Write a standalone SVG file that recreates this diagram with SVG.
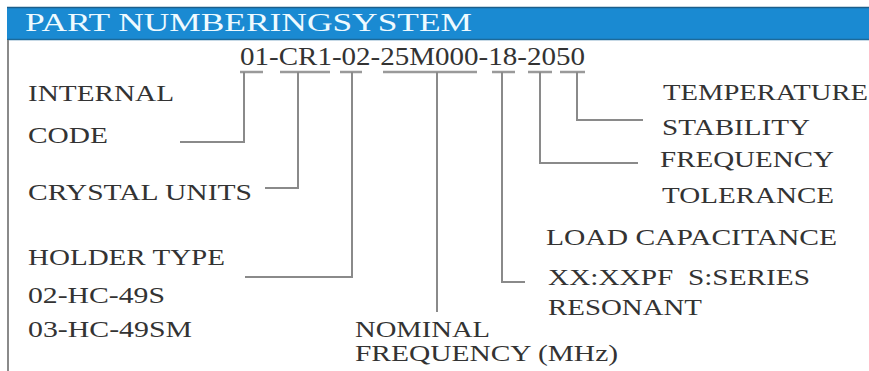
<svg xmlns="http://www.w3.org/2000/svg" width="869" height="371" viewBox="0 0 869 371">
<style>
.t{font-family:"Liberation Serif","DejaVu Serif",serif;font-size:23px;fill:#333;white-space:pre;}
.pn{font-family:"Liberation Serif","DejaVu Serif",serif;font-size:26px;fill:#333;}
.c{fill:none;stroke:#8a8a8a;stroke-width:2;}
.u{fill:none;stroke:#9a9a9a;stroke-width:2.5;}
</style>
<rect x="0" y="0" width="869" height="371" fill="#fff"/>
<g id="frame">
<rect x="7" y="7" width="862" height="33" fill="#1a8ad2"/>
<line x1="7" y1="7.5" x2="869" y2="7.5" stroke="#1c5f8c" stroke-width="1.5"/>
<line x1="7" y1="39.5" x2="869" y2="39.5" stroke="#1c6a9a" stroke-width="1.5"/>
<line x1="8" y1="40" x2="8" y2="371" stroke="#8a8a8a" stroke-width="2"/>
<text x="25" y="31" font-family="Liberation Serif,DejaVu Serif,serif" font-size="26" fill="#eefaff" textLength="447" lengthAdjust="spacingAndGlyphs">PART NUMBERINGSYSTEM</text>
</g>
<g id="part-number">
<text class="pn" x="240" y="65" textLength="345" lengthAdjust="spacingAndGlyphs">01-CR1-02-25M000-18-2050</text>
<path class="u" d="M240 72H263M280 72H330M340 72H362M383 72H477M492 72H515M528 72H552M560 72H585"/>
</g>
<g id="connectors">
<path class="c" d="M244 72V142H180"/>
<path class="c" d="M298 72V188H265"/>
<path class="c" d="M352 72V277H245"/>
<path class="c" d="M437 72V312"/>
<path class="c" d="M502 72V282H525"/>
<path class="c" d="M540 72V163H638"/>
<path class="c" d="M577 72V120H643"/>
</g>
<g id="internal-code">
<text class="t" x="28" y="101" textLength="146" lengthAdjust="spacingAndGlyphs">INTERNAL</text>
<text class="t" x="28" y="143" textLength="80" lengthAdjust="spacingAndGlyphs">CODE</text>
</g>
<g id="crystal-units">
<text class="t" x="28" y="200" textLength="224" lengthAdjust="spacingAndGlyphs">CRYSTAL UNITS</text>
</g>
<g id="holder-type">
<text class="t" x="28" y="265" textLength="197" lengthAdjust="spacingAndGlyphs">HOLDER TYPE</text>
<text class="t" x="28" y="303" textLength="137" lengthAdjust="spacingAndGlyphs">02-HC-49S</text>
<text class="t" x="28" y="337" textLength="164" lengthAdjust="spacingAndGlyphs">03-HC-49SM</text>
</g>
<g id="nominal-frequency">
<text class="t" x="355" y="337" textLength="135" lengthAdjust="spacingAndGlyphs">NOMINAL</text>
<text class="t" x="355" y="361" textLength="263" lengthAdjust="spacingAndGlyphs">FREQUENCY (MHz)</text>
</g>
<g id="load-capacitance">
<text class="t" x="546" y="245" textLength="291" lengthAdjust="spacingAndGlyphs">LOAD CAPACITANCE</text>
<text class="t" x="548" y="285" textLength="262" lengthAdjust="spacingAndGlyphs">XX:XXPF  S:SERIES</text>
<text class="t" x="548" y="315" textLength="154" lengthAdjust="spacingAndGlyphs">RESONANT</text>
</g>
<g id="frequency-tolerance">
<text class="t" x="660" y="167" textLength="174" lengthAdjust="spacingAndGlyphs">FREQUENCY</text>
<text class="t" x="662" y="203" textLength="172" lengthAdjust="spacingAndGlyphs">TOLERANCE</text>
</g>
<g id="temperature-stability">
<text class="t" x="663" y="100" textLength="205" lengthAdjust="spacingAndGlyphs">TEMPERATURE</text>
<text class="t" x="662" y="135" textLength="148" lengthAdjust="spacingAndGlyphs">STABILITY</text>
</g>
</svg>
